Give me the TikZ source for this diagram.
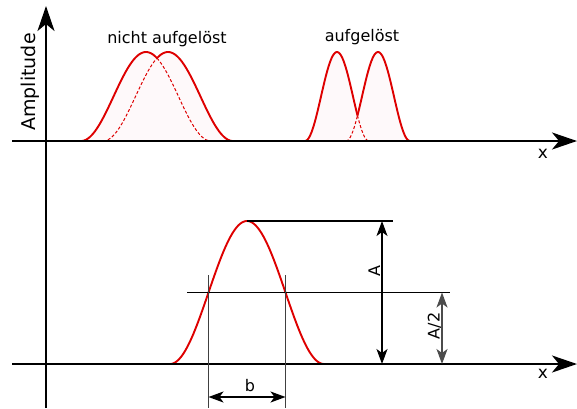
\documentclass[tikz,border=0pt]{standalone}
\usepackage{fontspec}
\setmainfont{DejaVu Sans}
\usetikzlibrary{arrows.meta}
\definecolor{curvered}{RGB}{222,0,0}
\definecolor{fillpink}{RGB}{254,249,250}
\begin{document}
\begin{tikzpicture}[x=1pt,y=-1pt,
  axis/.style={line width=2.2pt,-{Stealth[length=25pt,width=17pt,inset=7pt]}},
  curve/.style={curvered,line width=1.9pt},
  dcurve/.style={curvered,line width=1pt,dash pattern=on 3pt off 2pt},
  guide/.style={line width=1.3pt,black},
  vguide/.style={line width=1pt,black!75},
  dim/.style={line width=1.3pt,{Stealth[length=15pt,width=11pt,inset=4pt]}-{Stealth[length=15pt,width=11pt,inset=4pt]}},
  lbl/.style={font=\fontsize{16}{18}\selectfont,inner sep=0pt,anchor=base},
  xlbl/.style={font=\fontsize{17}{18}\selectfont,inner sep=0pt,anchor=base}]
\useasboundingbox (0,0) rectangle (577,408);

% ---------- top panel ----------
\fill[fillpink] (81,141)
  -- plot[domain=81:157,samples=60] (\x,{141-89*(1+cos(180*(\x-146)/65))/2})
  -- plot[domain=157:233,samples=60] (\x,{141-89*(1+cos(180*(\x-168)/65))/2}) -- cycle;
\fill[fillpink] (305,141)
  -- plot[domain=305:357.5,samples=50] (\x,{141-89*(1+cos(180*(\x-337)/32))/2})
  -- plot[domain=357.5:410,samples=50] (\x,{141-89*(1+cos(180*(\x-378)/32))/2}) -- cycle;

\draw[curve] plot[domain=81:157,samples=60] (\x,{141-89*(1+cos(180*(\x-146)/65))/2});
\draw[curve] plot[domain=157:233,samples=60] (\x,{141-89*(1+cos(180*(\x-168)/65))/2});
\draw[dcurve] plot[domain=157:211,samples=40] (\x,{141-89*(1+cos(180*(\x-146)/65))/2});
\draw[dcurve] plot[domain=103:157,samples=40] (\x,{141-89*(1+cos(180*(\x-168)/65))/2});

\draw[curve] plot[domain=305:357.5,samples=50] (\x,{141-89*(1+cos(180*(\x-337)/32))/2});
\draw[curve] plot[domain=357.5:410,samples=50] (\x,{141-89*(1+cos(180*(\x-378)/32))/2});
\draw[dcurve] plot[domain=357.5:369,samples=20] (\x,{141-89*(1+cos(180*(\x-337)/32))/2});
\draw[dcurve] plot[domain=346:357.5,samples=20] (\x,{141-89*(1+cos(180*(\x-378)/32))/2});

\coordinate (ax1s) at (12,141);
\coordinate (ax1e) at (577,141);
\draw[axis] (ax1s) -- (ax1e);

\node[lbl] (t1) at (167,43) {nicht aufgelöst};
\node[lbl] (t2) at (362,41) {aufgelöst};
\node[xlbl] (x1) at (543,158) {x};
\node[font=\fontsize{19}{20}\selectfont,inner sep=0pt,anchor=base,rotate=90] (amp) at (35,82) {Amplitude};

% ---------- bottom panel ----------
\draw[curve] plot[domain=170:324,samples=100] (\x,{364-143*(1+cos(180*(\x-247)/77))/2});

\coordinate (ax2s) at (12,364);
\coordinate (ax2e) at (577,364);
\draw[axis] (ax2s) -- (ax2e);

\coordinate (pk) at (247,221);
\coordinate (pkr) at (393,221);
\coordinate (hl) at (187,292.5);
\coordinate (hr) at (450,292.5);
\coordinate (v1t) at (208.5,275);
\coordinate (v1b) at (208.5,408);
\coordinate (v2t) at (285.5,275);
\coordinate (v2b) at (285.5,408);
\draw[guide] (pk) -- (pkr);
\draw[guide] (hl) -- (hr);
\draw[vguide] (v1t) -- (v1b);
\draw[vguide] (v2t) -- (v2b);

\coordinate (b1) at (208.5,397);
\coordinate (b2) at (285.5,397);
\draw[dim] (b1) -- (b2);
\coordinate (a1) at (382,221);
\coordinate (a2) at (382,364);
\draw[dim] (a1) -- (a2);
\coordinate (h1) at (442,292.5);
\coordinate (h2) at (442,364);
\draw[dim,black!70] (h1) -- (h2);

\node[lbl] (bl) at (250,391) {b};
\node[lbl,rotate=90] (al) at (380,271.5) {A};
\node[lbl,rotate=90] (a2l) at (439.5,326) {A/2};
\node[xlbl] (x2) at (543,378) {x};

% vertical axis
\coordinate (yb) at (46,408);
\coordinate (yt) at (46,6);
\draw[axis] (yb) -- (yt);
\end{tikzpicture}
\end{document}
